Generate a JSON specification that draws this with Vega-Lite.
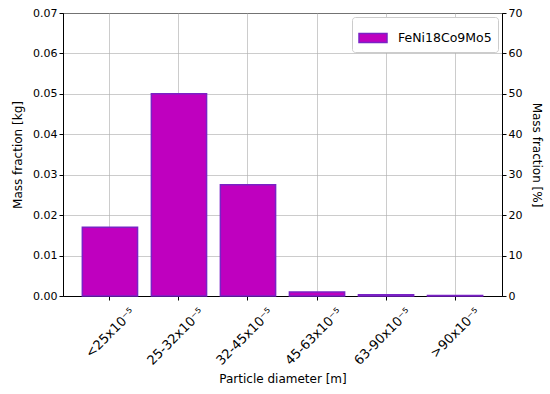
{
  "$schema": "https://vega.github.io/schema/vega-lite/v6.json",
  "autosize": "none",
  "width": 439,
  "height": 283,
  "padding": {"left": 63, "top": 13, "right": 48, "bottom": 98},
  "background": "white",
  "config": {
    "font": "DejaVu Sans",
    "view": {"stroke": "black", "strokeWidth": 1},
    "axis": {
      "labelFont": "DejaVu Sans", "titleFont": "DejaVu Sans",
      "labelFontSize": 11, "titleFontSize": 12, "titleFontWeight": "normal",
      "labelColor": "black", "titleColor": "black",
      "domainColor": "black", "tickColor": "black", "tickSize": 4,
      "gridColor": "#b0b0b0", "gridOpacity": 0.65, "gridWidth": 1,
      "zindex": 1
    },
    "legend": {
      "labelFont": "DejaVu Sans", "labelFontSize": 12.5, "labelColor": "black"
    }
  },
  "data": {
    "values": [
      {"size": "<25x10⁻⁵", "kg": 0.017, "pct": 17, "series": "FeNi18Co9Mo5"},
      {"size": "25-32x10⁻⁵", "kg": 0.050, "pct": 50, "series": "FeNi18Co9Mo5"},
      {"size": "32-45x10⁻⁵", "kg": 0.0275, "pct": 27.5, "series": "FeNi18Co9Mo5"},
      {"size": "45-63x10⁻⁵", "kg": 0.0010, "pct": 1.0, "series": "FeNi18Co9Mo5"},
      {"size": "63-90x10⁻⁵", "kg": 0.0003, "pct": 0.3, "series": "FeNi18Co9Mo5"},
      {"size": ">90x10⁻⁵", "kg": 0.0001, "pct": 0.1, "series": "FeNi18Co9Mo5"}
    ]
  },
  "encoding": {
    "x": {
      "field": "size", "type": "nominal", "sort": null,
      "scale": {"paddingInner": 0.2, "paddingOuter": 0.28},
      "axis": {"title": "Particle diameter [m]", "labelAngle": -45, "labelAlign": "right", "labelBaseline": "middle", "labelFont": "DejaVu Sans", "labelFontSize": 13, "labelOffset": 23, "labelPadding": 10, "labelOverlap": false, "labelBound": false, "titlePadding": 6, "grid": true}
    }
  },
  "layer": [
    {
      "mark": {"type": "bar", "stroke": "#7a22c6", "strokeWidth": 1.5},
      "encoding": {
        "y": {
          "field": "kg", "type": "quantitative",
          "scale": {"domain": [0, 0.07], "nice": false},
          "axis": {"title": "Mass fraction [kg]", "values": [0, 0.01, 0.02, 0.03, 0.04, 0.05, 0.06, 0.07], "format": ".2f", "grid": true, "titlePadding": 8}
        },
        "color": {
          "field": "series", "type": "nominal",
          "scale": {"domain": ["FeNi18Co9Mo5"], "range": ["#bf00bf"]},
          "legend": {
            "title": null, "orient": "top-right", "offset": 4,
            "symbolType": "M-1,-0.32H1V0.32H-1Z", "symbolSize": 784, "symbolStrokeColor": "#7a22c6", "symbolStrokeWidth": 1.5,
            "strokeColor": "#cccccc", "fillColor": "white", "padding": 6, "cornerRadius": 3, "labelOffset": 10
          }
        }
      }
    },
    {
      "mark": {"type": "bar", "opacity": 0},
      "encoding": {
        "y": {
          "field": "pct", "type": "quantitative",
          "scale": {"domain": [0, 70], "nice": false},
          "axis": {"title": "Mass fraction [%]", "orient": "right", "values": [0, 10, 20, 30, 40, 50, 60, 70], "grid": false, "titlePadding": 8}
        }
      }
    }
  ],
  "resolve": {"scale": {"y": "independent"}}
}
